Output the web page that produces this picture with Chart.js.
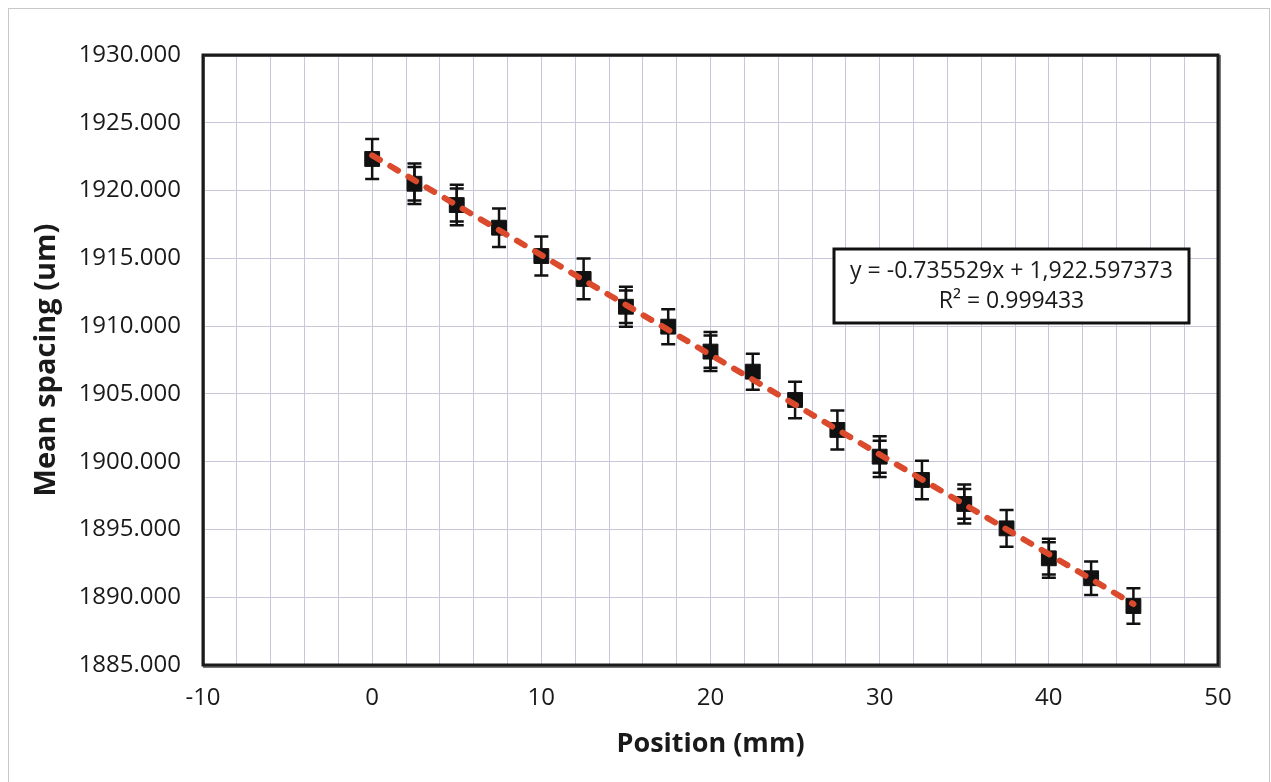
<!DOCTYPE html>
<html>
<head>
<meta charset="utf-8">
<script src="https://cdn.jsdelivr.net/npm/chart.js@4.4.0/dist/chart.umd.min.js"></script>
<style>
  html, body { margin: 0; padding: 0; background: #fff; }
  #wrap { position: relative; width: 1271px; height: 782px; }
  canvas { display: block; }
</style>
</head>
<body>
<div id="wrap"><canvas id="c" width="1271" height="782"></canvas></div>
<script>
// ---- data ----
const positions = [0, 2.5, 5, 7.5, 10, 12.5, 15, 17.5, 20, 22.5, 25, 27.5, 30, 32.5, 35, 37.5, 40, 42.5, 45];
const meanSpacing = [1922.33, 1920.50, 1918.93, 1917.26, 1915.17, 1913.48, 1911.43, 1909.96, 1908.12, 1906.64,
                     1904.55, 1902.34, 1900.37, 1898.65, 1896.88, 1895.08, 1892.87, 1891.40, 1889.35];
const errorA = [1.48, 1.50, 1.49, 1.42, 1.44, 1.50, 1.48, 1.29, 1.44, 1.33, 1.35, 1.44, 1.50, 1.42, 1.44, 1.36, 1.44, 1.23, 1.31];
const errorB = [null, 1.23, 1.22, null, null, null, 1.20, null, 1.19, null, null, null, 1.18, null, 1.10, null, 1.19, null, null];
const trendX = [0, 45];
const trendY = [1922.597, 1889.498];
const xTickLabels = [-10, 0, 10, 20, 30, 40, 50];
const yTickLabels = ['1885.000', '1890.000', '1895.000', '1900.000', '1905.000', '1910.000', '1915.000', '1920.000', '1925.000', '1930.000'];
const equationText = 'y = -0.735529x + 1,922.597373';
const r2Text = 'R² = 0.999433';
const xTitle = 'Position (mm)';
const yTitle = 'Mean spacing (um)';

const FONT = '"Open Sans", "DejaVu Sans", sans-serif';

const outerFrame = {
  id: 'outerFrame',
  beforeDraw(chart) {
    const ctx = chart.ctx;
    ctx.save();
    ctx.fillStyle = '#ffffff';
    ctx.fillRect(0, 0, chart.width, chart.height);
    ctx.strokeStyle = '#c8c8c8';
    ctx.lineWidth = 1;
    ctx.strokeRect(8.5, 8.5, 1261, 800);
    ctx.restore();
  }
};

const errorBars = {
  id: 'errorBars',
  beforeDatasetsDraw(chart) {
    const ctx = chart.ctx;
    const xs = chart.scales.x, ys = chart.scales.y;
    ctx.save();
    ctx.strokeStyle = '#111';
    ctx.lineWidth = 2.5;
    const cap = 7;
    positions.forEach((p, i) => {
      const px = xs.getPixelForValue(p);
      [errorA[i], errorB[i]].forEach(e => {
        if (e == null) return;
        const top = ys.getPixelForValue(meanSpacing[i] + e);
        const bot = ys.getPixelForValue(meanSpacing[i] - e);
        ctx.beginPath();
        ctx.moveTo(px, top); ctx.lineTo(px, bot);
        ctx.moveTo(px - cap, top); ctx.lineTo(px + cap, top);
        ctx.moveTo(px - cap, bot); ctx.lineTo(px + cap, bot);
        ctx.stroke();
      });
    });
    ctx.restore();
  }
};

const plotFrameAndLabel = {
  id: 'plotFrameAndLabel',
  afterDraw(chart) {
    const ctx = chart.ctx;
    const a = chart.chartArea;
    ctx.save();
    ctx.strokeStyle = '#777';
    ctx.lineWidth = 2;
    ctx.strokeRect(a.left + 1, a.top + 1, a.right - a.left + 1, a.bottom - a.top + 1);
    ctx.strokeStyle = '#1a1a1a';
    ctx.lineWidth = 3;
    ctx.strokeRect(a.left, a.top, a.right - a.left, a.bottom - a.top);

    // equation box
    const bx = 834, by = 249, bw = 355, bh = 74;
    ctx.fillStyle = '#fff';
    ctx.fillRect(bx, by, bw, bh);
    ctx.strokeStyle = '#111';
    ctx.lineWidth = 3;
    ctx.strokeRect(bx, by, bw, bh);
    ctx.fillStyle = '#1a1a1a';
    ctx.font = '23px ' + FONT;
    ctx.textAlign = 'center';
    ctx.textBaseline = 'middle';
    ctx.fillText(equationText, bx + bw / 2, by + 22);
    ctx.fillText(r2Text, bx + bw / 2, by + 52);
    ctx.restore();
  }
};

const ctx = document.getElementById('c').getContext('2d');
new Chart(ctx, {
  data: {
    datasets: [
      {
        type: 'line',
        label: 'Linear fit',
        data: trendX.map((x, i) => ({ x, y: trendY[i] })),
        borderColor: '#db4a2c',
        borderWidth: 6,
        borderDash: [9, 12],
        borderCapStyle: 'round',
        pointRadius: 0,
        fill: false,
        order: 0
      },
      {
        type: 'scatter',
        label: 'Mean spacing',
        data: positions.map((x, i) => ({ x, y: meanSpacing[i] })),
        pointStyle: 'rect',
        pointRadius: 10.5,
        pointBackgroundColor: '#111',
        pointBorderColor: '#111',
        pointBorderWidth: 1,
        order: 1
      }
    ]
  },
  options: {
    responsive: false,
    animation: false,
    devicePixelRatio: 1,
    layout: { padding: { left: 0, top: 55, right: 53, bottom: 0 } },
    plugins: { legend: { display: false }, tooltip: { enabled: false } },
    scales: {
      x: {
        type: 'linear',
        min: -10, max: 50,
        grid: { color: '#c6c8da', lineWidth: 1, drawTicks: false },
        border: { display: false },
        ticks: {
          stepSize: 2,
          autoSkip: false,
          maxRotation: 0,
          padding: 19,
          color: '#1a1a1a',
          font: { family: FONT, size: 24 },
          callback: v => xTickLabels.includes(v) ? String(v) : ''
        },
        title: {
          display: true, text: xTitle, color: '#1a1a1a',
          font: { family: FONT, size: 27, weight: 'bold' },
          padding: { top: 0, bottom: 21 }
        },
        afterFit(s) { s.height = 117; }
      },
      y: {
        type: 'linear',
        min: 1885, max: 1930,
        grid: { color: '#c6c8da', lineWidth: 1, drawTicks: false },
        border: { display: false },
        ticks: {
          stepSize: 5,
          padding: 22,
          color: '#1a1a1a',
          font: { family: FONT, size: 24 },
          callback: v => yTickLabels.find(t => parseFloat(t) === v) || ''
        },
        title: {
          display: true, text: yTitle, color: '#1a1a1a',
          font: { family: FONT, size: 29, weight: 'bold' },
          padding: { top: 29, bottom: 0 }
        },
        afterFit(s) { s.width = 203; }
      }
    }
  },
  plugins: [outerFrame, errorBars, plotFrameAndLabel]
});
</script>
</body>
</html>
